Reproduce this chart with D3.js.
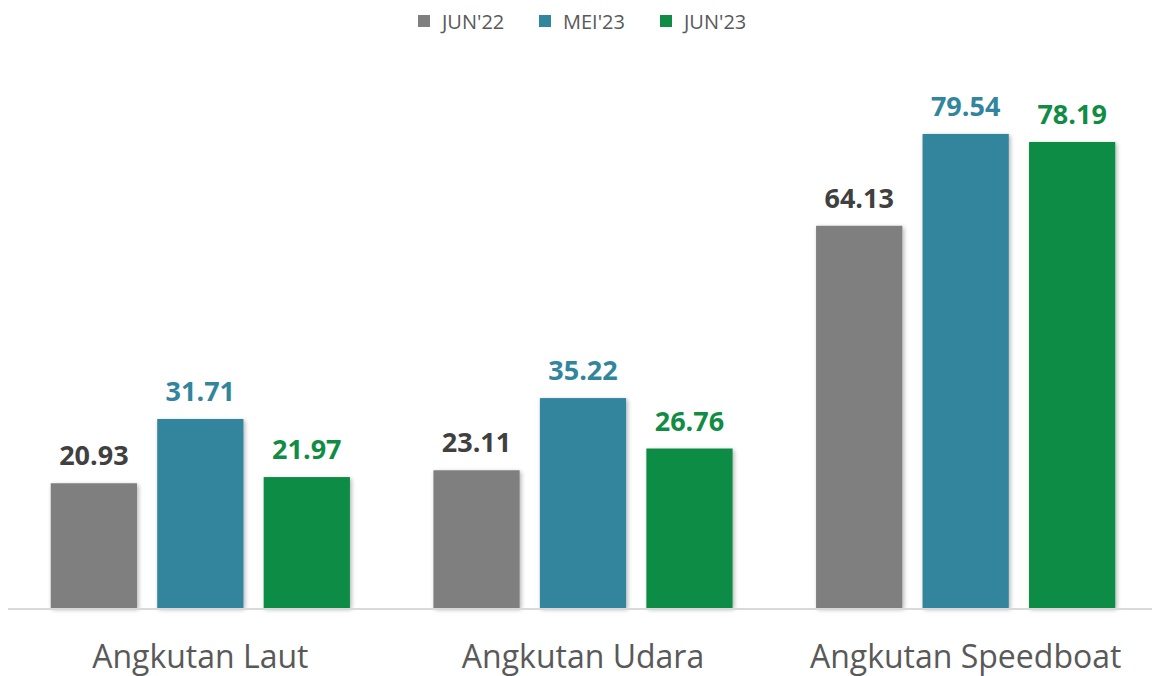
<!DOCTYPE html>
<html>
<head>
<meta charset="utf-8">
<script src="https://cdn.jsdelivr.net/npm/d3@7"></script>
<style>
  body { margin: 0; background: #fff; }
  svg { display: block; font-family: "Open Sans", sans-serif; }
</style>
</head>
<body>
<div id="chart"></div>
<script>
// data
const categories = ["Angkutan Laut", "Angkutan Udara", "Angkutan Speedboat"];
const seriesNames = ["JUN'22", "MEI'23", "JUN'23"];
const jun22 = [20.93, 23.11, 64.13];
const mei23 = [31.71, 35.22, 79.54];
const jun23 = [21.97, 26.76, 78.19];

const barColors = ["#7f7f7f", "#31859c", "#118c44"];
const labelColors = ["#404040", "#31859c", "#118c44"];

const width = 1153, height = 676;
const baseY = 608;

const svg = d3.select("#chart").append("svg")
    .attr("width", width)
    .attr("height", height);

// soft shadow under bars
const defs = svg.append("defs");
defs.append("filter")
    .attr("id", "shadow")
    .attr("x", "-10%").attr("y", "-10%").attr("width", "130%").attr("height", "130%")
  .append("feDropShadow")
    .attr("dx", 1.5).attr("dy", 1.5)
    .attr("stdDeviation", 2)
    .attr("flood-color", "#000")
    .attr("flood-opacity", 0.3);

//---------------------------SCALES---------------------------//
const x0 = d3.scaleBand()
    .domain(categories)
    .range([9, 1157]);

const x1 = d3.scaleBand()
    .domain(seriesNames)
    .range([0, x0.bandwidth()])
    .paddingInner(0.19)
    .paddingOuter(0.392);

const y = d3.scaleLinear()
    .domain([0, 100])
    .range([baseY, 12]);

const rows = categories.map(function(c, i) {
    return {
        cat: c,
        values: [jun22[i], mei23[i], jun23[i]].map(function(v, j) {
            return { series: seriesNames[j], value: v, idx: j };
        })
    };
});

//---------------------------BARS-----------------------------//
const groups = svg.selectAll("g.group")
    .data(rows)
    .enter().append("g")
    .attr("class", "group")
    .attr("transform", function(d) { return "translate(" + x0(d.cat) + ",0)"; });

groups.selectAll("rect")
    .data(function(d) { return d.values; })
    .enter().append("rect")
    .attr("x", function(d) { return x1(d.series); })
    .attr("y", function(d) { return y(d.value); })
    .attr("width", x1.bandwidth())
    .attr("height", function(d) { return baseY - y(d.value); })
    .attr("fill", function(d) { return barColors[d.idx]; })
    .attr("filter", "url(#shadow)");

groups.selectAll("text.val")
    .data(function(d) { return d.values; })
    .enter().append("text")
    .attr("class", "val")
    .attr("x", function(d) { return x1(d.series) + x1.bandwidth() / 2; })
    .attr("y", function(d) { return y(d.value) - 18; })
    .attr("text-anchor", "middle")
    .style("font-size", "27px")
    .style("font-weight", "bold")
    .style("fill", function(d) { return labelColors[d.idx]; })
    .text(function(d) { return d.value.toFixed(2); });

//---------------------------AXIS-----------------------------//
svg.append("line")
    .attr("x1", 8).attr("x2", 1152)
    .attr("y1", baseY + 1).attr("y2", baseY + 1)
    .style("stroke", "#d9d9d9")
    .style("stroke-width", 2);

svg.selectAll("text.cat")
    .data(categories)
    .enter().append("text")
    .attr("class", "cat")
    .attr("x", function(d) { return x0(d) + x0.bandwidth() / 2; })
    .attr("y", 668)
    .attr("text-anchor", "middle")
    .style("font-size", "32px")
    .style("fill", "#595959")
    .text(function(d) { return d; });

//---------------------------LEGEND---------------------------//
const legendX = [418, 539, 660];
const legend = svg.selectAll("g.legend")
    .data(seriesNames)
    .enter().append("g")
    .attr("class", "legend")
    .attr("transform", function(d, i) { return "translate(" + legendX[i] + ",15)"; });

legend.append("rect")
    .attr("width", 12).attr("height", 12)
    .attr("fill", function(d, i) { return barColors[i]; });

legend.append("text")
    .attr("x", 24)
    .attr("y", 13.5)
    .style("font-size", "20px")
    .style("fill", "#595959")
    .text(function(d) { return d; });
</script>
</body>
</html>
